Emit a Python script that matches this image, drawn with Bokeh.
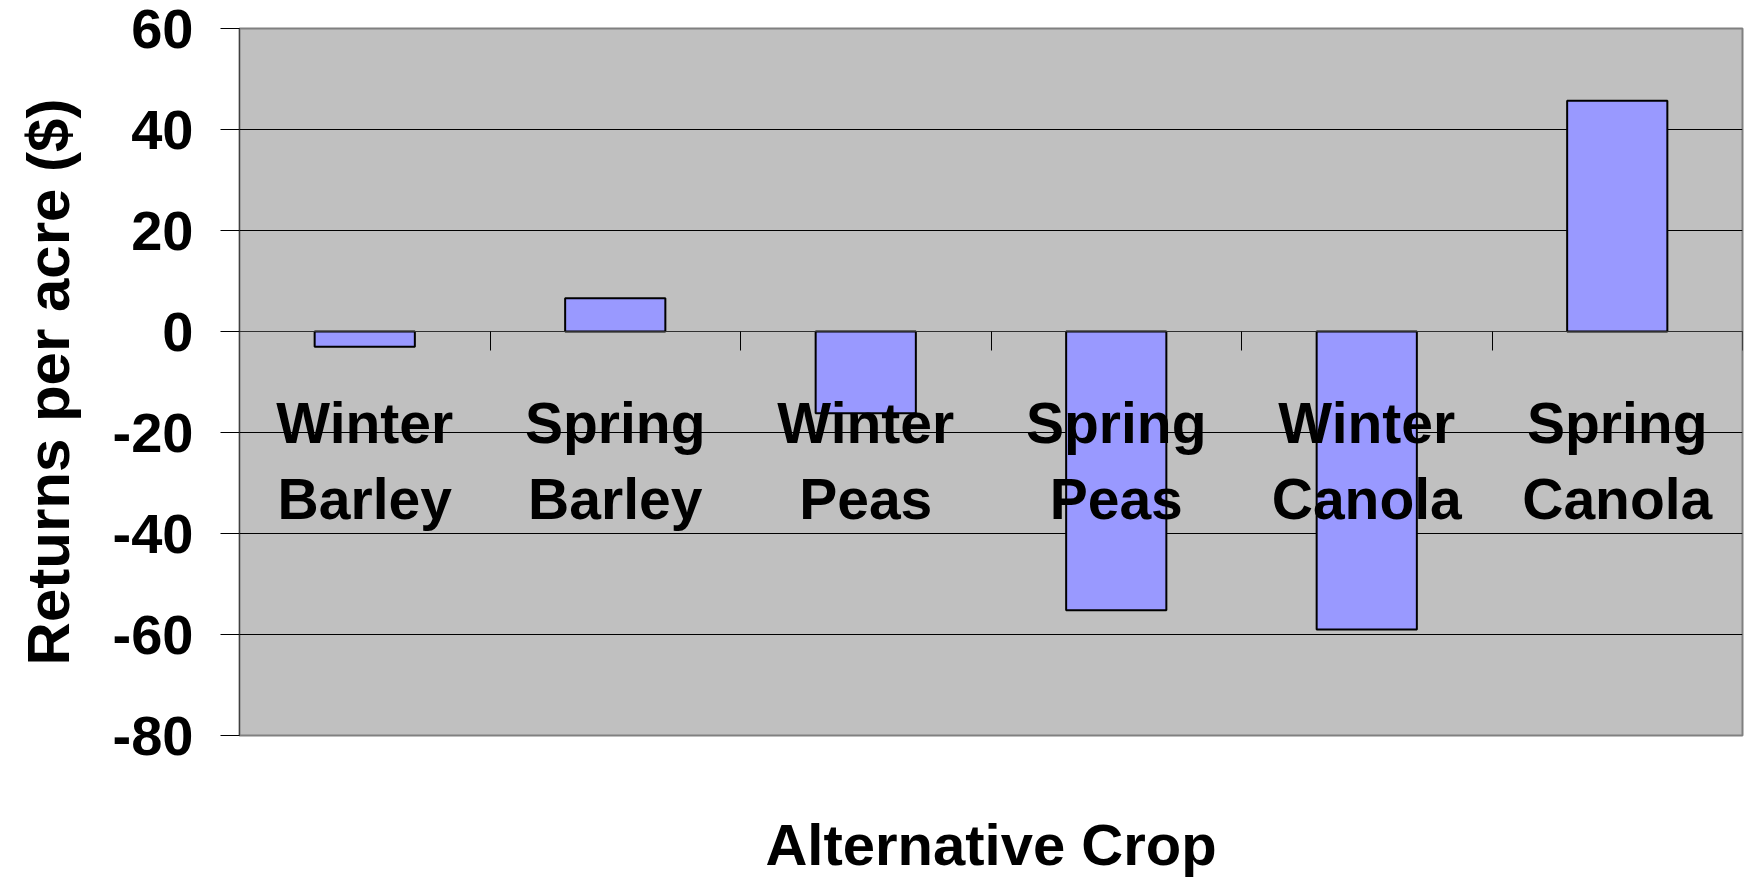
from bokeh.plotting import figure
from bokeh.models import (ColumnDataSource, FixedTicker, LinearAxis, Range1d, Grid)
from bokeh.embed import file_html
from bokeh.resources import INLINE

# ---- data ----
categories = ["Winter Barley", "Spring Barley", "Winter Peas",
              "Spring Peas", "Winter Canola", "Spring Canola"]
returns = [-3.0, 6.6, -16.2, -55.2, -59.0, 45.7]
y_ticks = [-80, -60, -40, -20, 0, 20, 40, 60]
y_tick_labels = ["-80", "-60", "-40", "-20", "0", "20", "40", "60"]
x_title = "Alternative Crop"
y_title = "Returns per acre ($)"

FONT = "Liberation Sans"

xs = [i + 0.5 for i in range(len(categories))]
bounds = [float(i) for i in range(1, len(categories) + 1)]
src = ColumnDataSource(dict(x=xs, top=returns, cat=categories))

p = figure(width=1749, height=879, output_backend="svg", toolbar_location=None,
           x_range=Range1d(0, len(categories)), y_range=Range1d(min(y_ticks), max(y_ticks)),
           x_axis_location=None, y_axis_location=None,
           min_border_left=239, min_border_top=28, min_border_right=7,
           min_border_bottom=141)
for g in p.grid:
    g.visible = False
p.background_fill_color = "#C0C0C0"
p.border_fill_color = "white"
p.outline_line_color = "#808080"
p.outline_line_width = 2

p.add_layout(Grid(dimension=1, ticker=FixedTicker(ticks=y_ticks),
                  grid_line_color="black", grid_line_width=1))

p.vbar(x="x", top="top", bottom=0, width=0.4, source=src,
       fill_color="#9999FF", line_color="black", line_width=2)

# y axis
yax = LinearAxis(ticker=FixedTicker(ticks=y_ticks, minor_ticks=[]),
                 major_label_overrides={t: l for t, l in zip(y_ticks, y_tick_labels)},
                 axis_label=y_title)
yax.axis_line_color = "#404040"
yax.axis_line_width = 1
yax.major_tick_out = 19
yax.major_tick_in = 0
yax.major_tick_line_color = "black"
yax.minor_tick_line_color = None
yax.major_label_standoff = 27
yax.major_label_text_font = FONT
yax.major_label_text_font_style = "bold"
yax.major_label_text_font_size = "56px"
yax.major_label_text_color = "black"
yax.axis_label_text_font = FONT
yax.axis_label_text_font_style = "bold"
yax.axis_label_text_font_size = "60px"
yax.axis_label_text_color = "black"
yax.axis_label_standoff = 28
p.add_layout(yax, "left")

# x axis at zero with category labels
xax = LinearAxis(ticker=FixedTicker(ticks=xs, minor_ticks=bounds),
                 major_label_overrides={x: c.replace(" ", "\n") for x, c in zip(xs, categories)},
                 fixed_location=0)
xax.axis_line_color = "#303030"
xax.axis_line_width = 1
xax.major_tick_line_color = None
xax.major_tick_out = 0
xax.major_tick_in = 0
xax.minor_tick_out = 19
xax.minor_tick_in = 0
xax.minor_tick_line_color = "black"
xax.major_label_standoff = 40
xax.major_label_text_font = FONT
xax.major_label_text_font_style = "bold"
xax.major_label_text_font_size = "57px"
xax.major_label_text_color = "black"
xax.major_label_text_line_height = 1.19
p.add_layout(xax, "below")

# x title axis below the frame
tax = LinearAxis(ticker=FixedTicker(ticks=[], minor_ticks=[]), axis_label=x_title)
tax.axis_line_color = None
tax.major_tick_line_color = None
tax.minor_tick_line_color = None
tax.major_tick_out = 0
tax.major_tick_in = 0
tax.minor_tick_out = 0
tax.axis_label_standoff = 76
tax.axis_label_text_font = FONT
tax.axis_label_text_font_style = "bold"
tax.axis_label_text_font_size = "58px"
tax.axis_label_text_color = "black"
p.add_layout(tax, "below")

open("out.html", "w").write(file_html(p, INLINE))
